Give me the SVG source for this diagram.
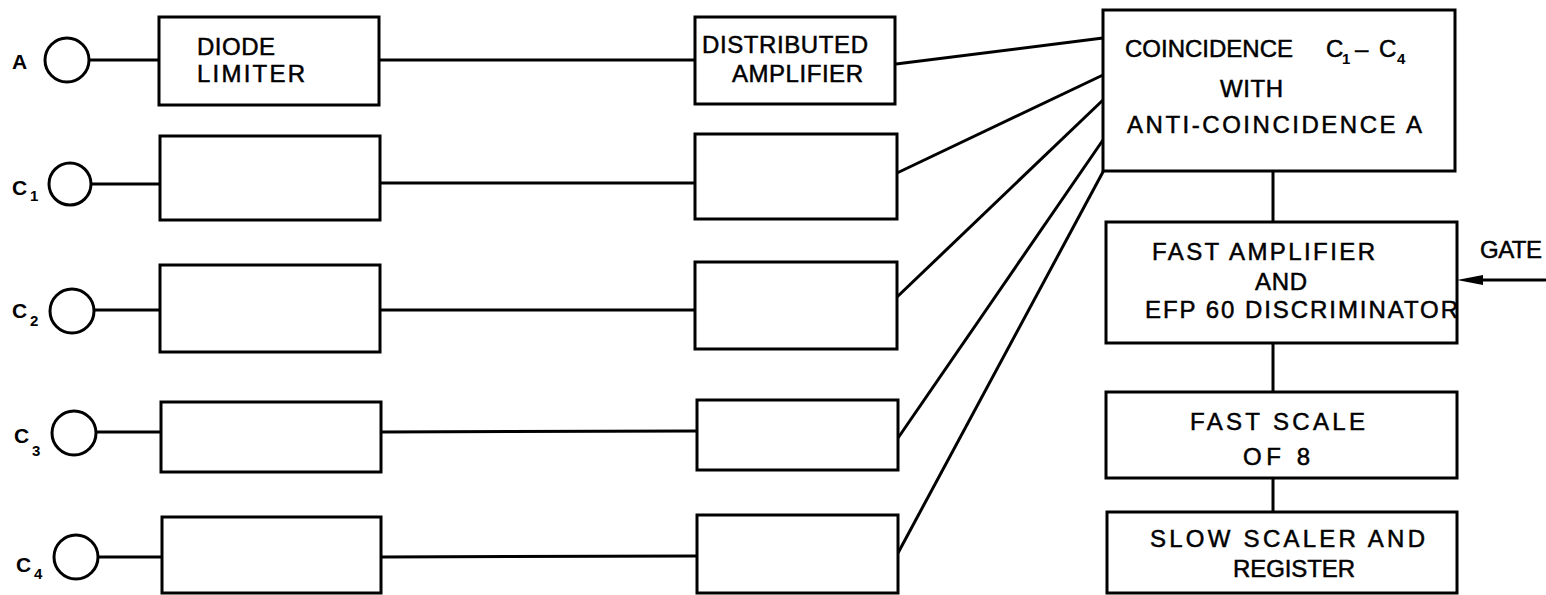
<svg xmlns="http://www.w3.org/2000/svg" width="1546" height="595" viewBox="0 0 1546 595">
<style>
.box{fill:#fff;stroke:#000;stroke-width:3}
.ln{fill:none;stroke:#000;stroke-width:3}
.c{fill:none;stroke:#000;stroke-width:3}
.t{font-family:"Liberation Sans",Arial,sans-serif;font-size:24px;fill:#000;stroke:#000;stroke-width:0.5}
.lb{font-family:"Liberation Sans",Arial,sans-serif;font-size:21px;font-weight:bold;fill:#000}
.sb{font-family:"Liberation Sans",Arial,sans-serif;font-size:15px;font-weight:bold;fill:#000}
</style>
<rect width="1546" height="595" fill="#fff"/>
<g id="connectors">
<line class="ln" x1="89" y1="60" x2="159" y2="60"/>
<line class="ln" x1="91" y1="184" x2="160" y2="184"/>
<line class="ln" x1="94" y1="310" x2="160" y2="310"/>
<line class="ln" x1="96" y1="432" x2="161" y2="432"/>
<line class="ln" x1="98" y1="557" x2="162" y2="557"/>
<line class="ln" x1="379" y1="60" x2="695" y2="60"/>
<line class="ln" x1="380" y1="183" x2="695" y2="183"/>
<line class="ln" x1="380" y1="310" x2="695" y2="310"/>
<line class="ln" x1="381" y1="432" x2="697" y2="431"/>
<line class="ln" x1="381" y1="557" x2="697" y2="556"/>
<line class="ln" x1="896" y1="64" x2="1103" y2="38"/>
<line class="ln" x1="897" y1="173" x2="1103" y2="75"/>
<line class="ln" x1="897" y1="297" x2="1103" y2="100"/>
<line class="ln" x1="898" y1="438" x2="1103" y2="140"/>
<line class="ln" x1="898" y1="553" x2="1104" y2="170"/>
<line class="ln" x1="1273" y1="171" x2="1273" y2="222"/>
<line class="ln" x1="1273" y1="343" x2="1273" y2="392"/>
<line class="ln" x1="1273" y1="478" x2="1273" y2="512"/>
<line class="ln" x1="1546" y1="280" x2="1470" y2="280"/>
<polygon points="1457,280 1483,275 1483,285" fill="#000"/>
</g>
<g id="in-A"><circle class="c" cx="67" cy="60" r="22"/><text class="lb" x="12" y="69">A</text></g>
<g id="in-C1"><circle class="c" cx="70" cy="184" r="21"/><text class="lb" x="12" y="195">C</text><text class="sb" x="30" y="201">1</text></g>
<g id="in-C2"><circle class="c" cx="72" cy="311" r="22"/><text class="lb" x="12" y="318">C</text><text class="sb" x="30" y="326">2</text></g>
<g id="in-C3"><circle class="c" cx="74" cy="433" r="22"/><text class="lb" x="14" y="443">C</text><text class="sb" x="32" y="456">3</text></g>
<g id="in-C4"><circle class="c" cx="76" cy="557" r="22"/><text class="lb" x="16" y="572">C</text><text class="sb" x="34" y="579">4</text></g>
<g id="lim-A"><rect class="box" x="159" y="17" width="220" height="88"/><text class="t" x="197" y="55" textLength="78">DIODE</text><text class="t" x="197" y="82" textLength="108">LIMITER</text></g>
<g id="lim-C1"><rect class="box" x="160" y="136" width="220" height="84"/></g>
<g id="lim-C2"><rect class="box" x="160" y="265" width="220" height="87"/></g>
<g id="lim-C3"><rect class="box" x="161" y="402" width="220" height="70"/></g>
<g id="lim-C4"><rect class="box" x="162" y="517" width="219" height="76"/></g>
<g id="amp-A"><rect class="box" x="695" y="17" width="200" height="87"/><text class="t" x="702" y="53" textLength="166">DISTRIBUTED</text><text class="t" x="732" y="82" textLength="131">AMPLIFIER</text></g>
<g id="amp-C1"><rect class="box" x="695" y="134" width="202" height="85"/></g>
<g id="amp-C2"><rect class="box" x="695" y="262" width="202" height="87"/></g>
<g id="amp-C3"><rect class="box" x="697" y="400" width="201" height="70"/></g>
<g id="amp-C4"><rect class="box" x="697" y="515" width="201" height="78"/></g>
<g id="coinc"><rect class="box" x="1103" y="10" width="352" height="161"/>
<text class="t" x="1125" y="57" textLength="168">COINCIDENCE</text>
<text class="t" x="1326" y="57">C</text><text class="sb" x="1342" y="64">1</text><text class="t" x="1355" y="57">–</text><text class="t" x="1379" y="57">C</text><text class="sb" x="1397" y="64">4</text>
<text class="t" x="1220" y="97" textLength="63">WITH</text>
<text class="t" x="1127" y="133" textLength="295">ANTI-COINCIDENCE A</text></g>
<g id="fastamp"><rect class="box" x="1106" y="222" width="351" height="121"/>
<text class="t" x="1152" y="260" textLength="223">FAST AMPLIFIER</text>
<text class="t" x="1255" y="290" textLength="52">AND</text>
<text class="t" x="1145" y="318" textLength="313">EFP 60 DISCRIMINATOR</text></g>
<g id="scale8"><rect class="box" x="1106" y="392" width="351" height="86"/>
<text class="t" x="1190" y="430" textLength="175">FAST SCALE</text>
<text class="t" x="1243" y="465" textLength="67">OF 8</text></g>
<g id="slow"><rect class="box" x="1107" y="512" width="350" height="81"/>
<text class="t" x="1150" y="547" textLength="275">SLOW SCALER AND</text>
<text class="t" x="1233" y="577" textLength="122">REGISTER</text></g>
<g id="gate"><text class="t" x="1480" y="258" textLength="62">GATE</text></g>
</svg>
